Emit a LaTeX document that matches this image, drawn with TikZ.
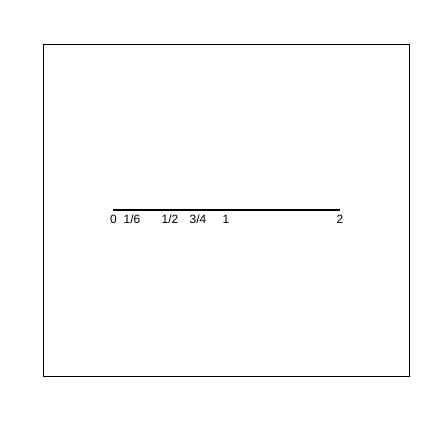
\documentclass[tikz,border=0pt]{standalone}
\usepackage{fontspec}
\setmainfont{Liberation Sans}
\begin{document}
\begin{tikzpicture}[x=1bp,y=-1bp,
  lbl/.style={inner sep=0pt,font=\fontsize{12}{12}\selectfont},
  frame/.style={draw=black,line width=1bp},
  bar/.style={draw=black,line width=2bp}]
\useasboundingbox (0,0) rectangle (432,432);
\node[frame,minimum width=365bp,minimum height=332bp,inner sep=0pt] (box) at (226.5,210) {};
\coordinate (a) at (113,210);
\coordinate (b) at (340,210);
\draw[bar] (a) -- (b);
\node[lbl] (l0) at (113.5,219.5) {0};
\node[lbl] (l16) at (132,219.5) {1/6};
\node[lbl] (l12) at (170,219.5) {1/2};
\node[lbl] (l34) at (198,219.5) {3/4};
\node[lbl] (l1) at (226,219.5) {1};
\node[lbl] (l2) at (340,219.5) {2};
\end{tikzpicture}
\end{document}
